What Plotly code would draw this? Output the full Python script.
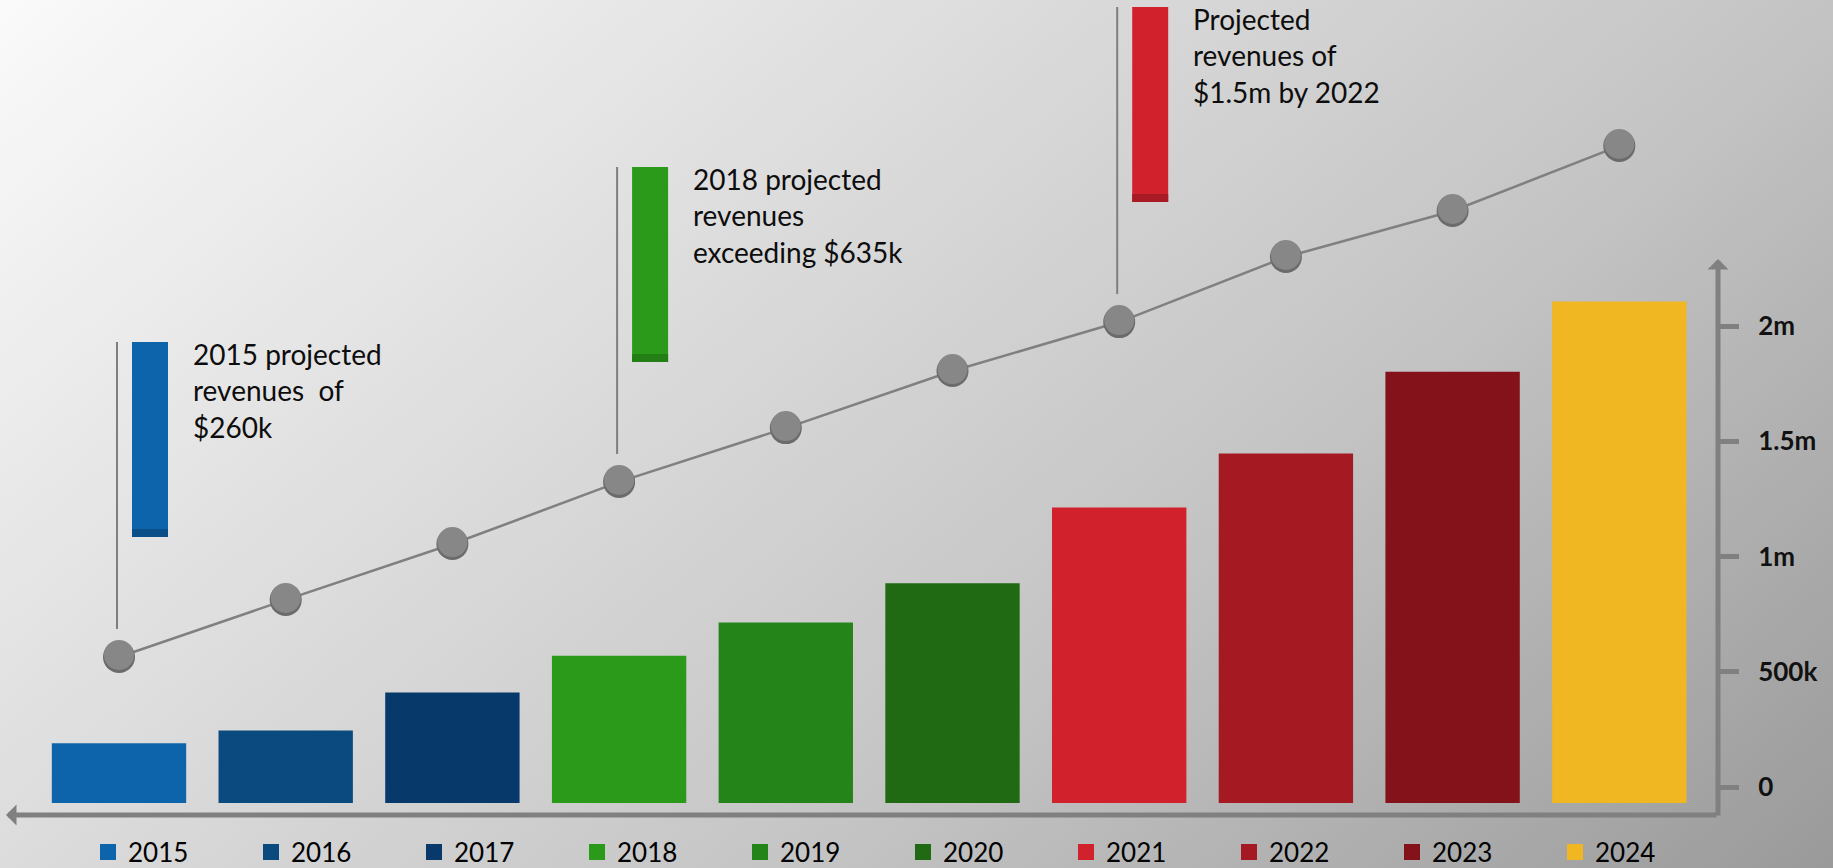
import base64
import plotly.graph_objects as go

# ---------------- data ----------------
years = ["2015", "2016", "2017", "2018", "2019", "2020", "2021", "2022", "2023", "2024"]
revenue = [260000, 315000, 480000, 640000, 785000, 955000, 1285000, 1520000, 1875000, 2180000]
trend = [635000, 883000, 1126000, 1396000, 1630000, 1878000, 2091000, 2374000, 2574000, 2857000]
bar_colors = ["#0e64ab", "#0b4a7f", "#07396a", "#2b9a1a", "#24841a",
              "#1f6a12", "#d0212d", "#a51a22", "#83121a", "#f0b722"]
tick_vals = [0, 500000, 1000000, 1500000, 2000000]
tick_text = ["0", "500k", "1m", "1.5m", "2m"]
callout_years = ["2015", "2018", "2021"]
callout_texts = ["2015 projected<br>revenues  of<br>$260k",
                 "2018 projected<br>revenues<br>exceeding $635k",
                 "Projected<br>revenues of<br>$1.5m by 2022"]
callout_colors = ["#0e64ab", "#2b9a1a", "#d0212d"]
callout_dark = ["#0b4f88", "#237f15", "#a81b24"]

# ---------------- layout geometry ----------------
W, H = 1833, 868
ML, MR, MT, MB = 0, 115, 0, 53
PW, PH = W - ML - MR, H - MT - MB
center0, step = 119.0, 166.7
xr = [-(center0) / step, (PW - center0) / step]
zero_px, ppu = 803.0, 230.0 / 1e6          # bar axis
yr = [-(PH - zero_px) / ppu, zero_px / ppu]
tick_zero_px, tppu = 787.0, 230.5 / 1e6    # decorative tick axis
yr2 = [-(PH - tick_zero_px) / tppu, tick_zero_px / tppu]
shift = 2.0 / ppu
yr3 = [yr[0] - shift, yr[1] - shift]

FONT = "Lato, 'Open Sans', sans-serif"
xpos = list(range(len(years)))

fig = go.Figure()
# bars (exact geometry, no outline)
for xi, yv, val, col in zip(xpos, years, revenue, bar_colors):
    fig.add_trace(go.Bar(
        x=[xi], y=[val], name=yv, width=0.806, showlegend=False,
        marker=dict(color=col, line=dict(width=0)),
        hoverinfo="skip"))
# legend entries (larger square swatches)
for yv, col in zip(years, bar_colors):
    fig.add_trace(go.Bar(
        x=[None], y=[None], name=yv, showlegend=True,
        marker=dict(color=col, line=dict(color=col, width=4)),
        hoverinfo="skip"))

fig.add_trace(go.Scatter(
    x=xpos, y=trend, mode="lines+markers", showlegend=False,
    line=dict(color="#808080", width=2.5),
    marker=dict(size=32, color="#6b6b6b"), hoverinfo="skip"))
fig.add_trace(go.Scatter(
    x=xpos, y=trend, mode="markers", showlegend=False, yaxis="y3",
    marker=dict(size=30, color="#878787"), hoverinfo="skip"))
# invisible trace to activate tick axis
fig.add_trace(go.Scatter(x=[0], y=[0], yaxis="y2", mode="markers",
                         marker=dict(opacity=0), showlegend=False, hoverinfo="skip"))

shapes, annos = [], []
for cy, txt, col, dk in zip(callout_years, callout_texts, callout_colors, callout_dark):
    idx = years.index(cy)
    tv = trend[idx]
    common = dict(xref="x", yref="y", xsizemode="pixel", ysizemode="pixel",
                  xanchor=idx, yanchor=tv)
    shapes.append(dict(type="line", x0=-2, x1=-2, y0=28, y1=315,
                       line=dict(color="#7f7f7f", width=2), **common))
    shapes.append(dict(type="rect", x0=13, x1=49, y0=120, y1=315,
                       fillcolor=col, line=dict(width=0), **common))
    shapes.append(dict(type="rect", x0=13, x1=49, y0=120, y1=128,
                       fillcolor=dk, line=dict(width=0), **common))
    annos.append(dict(x=idx, y=tv, xref="x", yref="y", xshift=72, yshift=322,
                      xanchor="left", yanchor="top", align="left", showarrow=False,
                      text=txt, font=dict(family=FONT, size=28, color="#0d0d0d")))

# axis arrows
annos.append(dict(xref="paper", yref="paper", x=6 / PW, y=0, ax=PW - 6, ay=0,
                  text="", showarrow=True, arrowhead=1, arrowsize=0.7,
                  arrowwidth=5, arrowcolor="#808080"))
annos.append(dict(xref="paper", yref="paper", x=1, y=(PH - 259) / PH, ax=0, ay=PH + 2 - 259,
                  text="", showarrow=True, arrowhead=1, arrowsize=0.7,
                  arrowwidth=5, arrowcolor="#808080"))

svg = ('<svg xmlns="http://www.w3.org/2000/svg" width="1833" height="868" '
       'viewBox="0 0 1833 868" preserveAspectRatio="none"><defs>'
       '<linearGradient id="g" gradientUnits="userSpaceOnUse" x1="0" y1="0" x2="1198" y2="1406">'
       '<stop offset="0" stop-color="#fafafa"/><stop offset="0.357" stop-color="#dcdcdc"/>'
       '<stop offset="0.64" stop-color="#c4c4c4"/><stop offset="1" stop-color="#9a9a9a"/>'
       '</linearGradient></defs><rect width="1833" height="868" fill="url(#g)"/></svg>')
img_src = "data:image/svg+xml;base64," + base64.b64encode(svg.encode()).decode()

fig.update_layout(
    width=W, height=H,
    margin=dict(l=ML, r=MR, t=MT, b=MB, pad=0),
    paper_bgcolor="#e0e0e0", plot_bgcolor="rgba(0,0,0,0)",
    barmode="overlay",
    font=dict(family=FONT, color="#000000"),
    images=[dict(source=img_src, xref="paper", yref="paper", x=0, y=1,
                 sizex=W / PW, sizey=H / PH, xanchor="left", yanchor="top",
                 sizing="stretch", layer="below")],
    xaxis=dict(type="linear", range=xr, showgrid=False, zeroline=False,
               showticklabels=False, showline=False, ticks=""),
    yaxis=dict(range=yr, showgrid=False, zeroline=False, showticklabels=False,
               showline=False, ticks=""),
    yaxis2=dict(range=yr2, overlaying="y", side="right", anchor="x",
                showgrid=False, zeroline=False, showline=False,
                tickvals=tick_vals, ticktext=tick_text, ticks="outside",
                ticklen=20, tickwidth=5, tickcolor="#808080",
                ticklabelstandoff=14,
                tickfont=dict(family=FONT, size=26, color="#111111", weight="bold")),
    yaxis3=dict(range=yr3, overlaying="y", visible=False),
    shapes=shapes, annotations=annos,
    showlegend=True,
    legend=dict(orientation="h", xref="container", yref="container",
                x=88 / W, y=1 - 852 / H, xanchor="left", yanchor="middle",
                entrywidth=118, entrywidthmode="pixels", traceorder="normal",
                bgcolor="rgba(0,0,0,0)", font=dict(family=FONT, size=26, color="#000000")),
)

fig.write_html("out.html", config={"displayModeBar": False},
               post_script="document.body.style.margin='0px';")
